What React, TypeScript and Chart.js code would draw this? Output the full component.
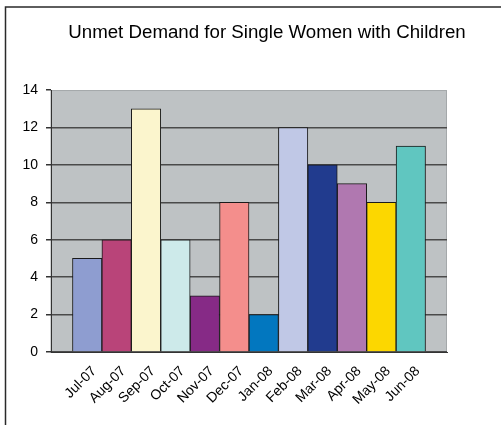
import React, { useEffect, useRef } from 'react';
import { Chart, registerables } from 'chart.js';

Chart.register(...registerables);

const chartTitle = 'Unmet Demand for Single Women with Children';
const months = ['Jul-07', 'Aug-07', 'Sep-07', 'Oct-07', 'Nov-07', 'Dec-07', 'Jan-08', 'Feb-08', 'Mar-08', 'Apr-08', 'May-08', 'Jun-08'];
const demand = [5, 6, 13, 6, 3, 8, 2, 12, 10, 9, 8, 11];
const barColors = ['#8e9dd0', '#b94479', '#fbf5cd', '#cdeaea', '#862a86', '#f48e8c', '#0277bf', '#c0c8e6', '#213b8e', '#b078b0', '#fcd700', '#60c6c0'];
const yMin = 0;
const yMax = 14;
const yStep = 2;

const framePlugin = {
  id: 'frameAndBg',
  afterLayout(chart: any) {
    const t = chart.titleBlock;
    if (t) {
      t.left = 33;
      t.right = chart.width;
      t.width = t.right - t.left;
    }
  },
  beforeDraw(chart: any) {
    const { ctx, chartArea } = chart;
    ctx.save();
    ctx.fillStyle = '#ffffff';
    ctx.fillRect(0, 0, chart.width, chart.height);
    ctx.strokeStyle = '#2a2a2a';
    ctx.lineWidth = 1.5;
    ctx.beginPath();
    ctx.moveTo(5.5, chart.height);
    ctx.lineTo(5.5, 7);
    ctx.lineTo(chart.width, 7);
    ctx.stroke();
    ctx.fillStyle = '#bec2c4';
    ctx.fillRect(chartArea.left, chartArea.top, chartArea.right - chartArea.left, chartArea.bottom - chartArea.top);
    ctx.strokeStyle = '#a4a8aa';
    ctx.lineWidth = 1;
    ctx.strokeRect(chartArea.left, chartArea.top + 0.5, chartArea.right - chartArea.left - 0.5, chartArea.bottom - chartArea.top);
    ctx.restore();
  },
};

export default function App() {
  const ref = useRef<HTMLCanvasElement | null>(null);

  useEffect(() => {
    if (!ref.current) return;
    const chart = new Chart(ref.current, {
      type: 'bar',
      data: {
        datasets: [
          {
            label: 'Unmet Demand',
            data: demand.map((v, i) => ({ x: i, y: v })),
            backgroundColor: barColors,
            borderColor: '#1a1a1a',
            borderWidth: 1,
            barPercentage: 1,
            categoryPercentage: 1,
          },
        ],
      },
      options: {
        animation: false,
        responsive: false,
        maintainAspectRatio: false,
        layout: { padding: { left: 0, right: 54, top: 0, bottom: 0 } },
        plugins: {
          legend: { display: false },
          tooltip: { enabled: false },
          title: {
            display: true,
            text: chartTitle,
            color: '#000000',
            font: { family: "'Liberation Sans', Arial, sans-serif", size: 18.7, weight: 'normal' },
            padding: { top: 22, bottom: 45.6 },
          },
        },
        scales: {
          x: {
            type: 'linear',
            offset: false,
            min: -1.23,
            max: 12.23,
            afterFit: (scale: any) => {
              scale.height = 73;
            },
            grid: { display: false, offset: false },
            border: { display: true, color: '#333333', width: 1 },
            ticks: {
              stepSize: 1,
              includeBounds: false,
              autoSkip: false,
              minRotation: 45,
              maxRotation: 45,
              labelOffset: 7,
              color: '#000000',
              font: { family: "'Liberation Sans', Arial, sans-serif", size: 14 },
              callback: (v: any) => {
                const i = Number(v);
                return Number.isInteger(i) && i >= 0 && i < months.length ? months[i] : '';
              },
            },
          },
          y: {
            min: yMin,
            max: yMax,
            afterFit: (scale: any) => {
              scale.width = 51;
            },
            grid: {
              color: (ctx: any) => (ctx.tick && ctx.tick.value === yMax ? 'rgba(0,0,0,0)' : '#4a4a4a'),
              lineWidth: 1.5,
              tickLength: 5,
              tickColor: '#333333',
              drawTicks: true,
            },
            border: { display: true, color: '#333333', width: 1 },
            ticks: {
              stepSize: yStep,
              padding: 8,
              color: '#000000',
              font: { family: "'Liberation Sans', Arial, sans-serif", size: 14 },
            },
          },
        },
      },
      plugins: [framePlugin],
    });
    return () => chart.destroy();
  }, []);

  return (
    <div style={{ position: 'fixed', left: 0, top: 0, width: 501, height: 425, background: '#fff' }}>
      <canvas ref={ref} width={501} height={425} style={{ width: 501, height: 425, display: 'block' }} />
    </div>
  );
}
